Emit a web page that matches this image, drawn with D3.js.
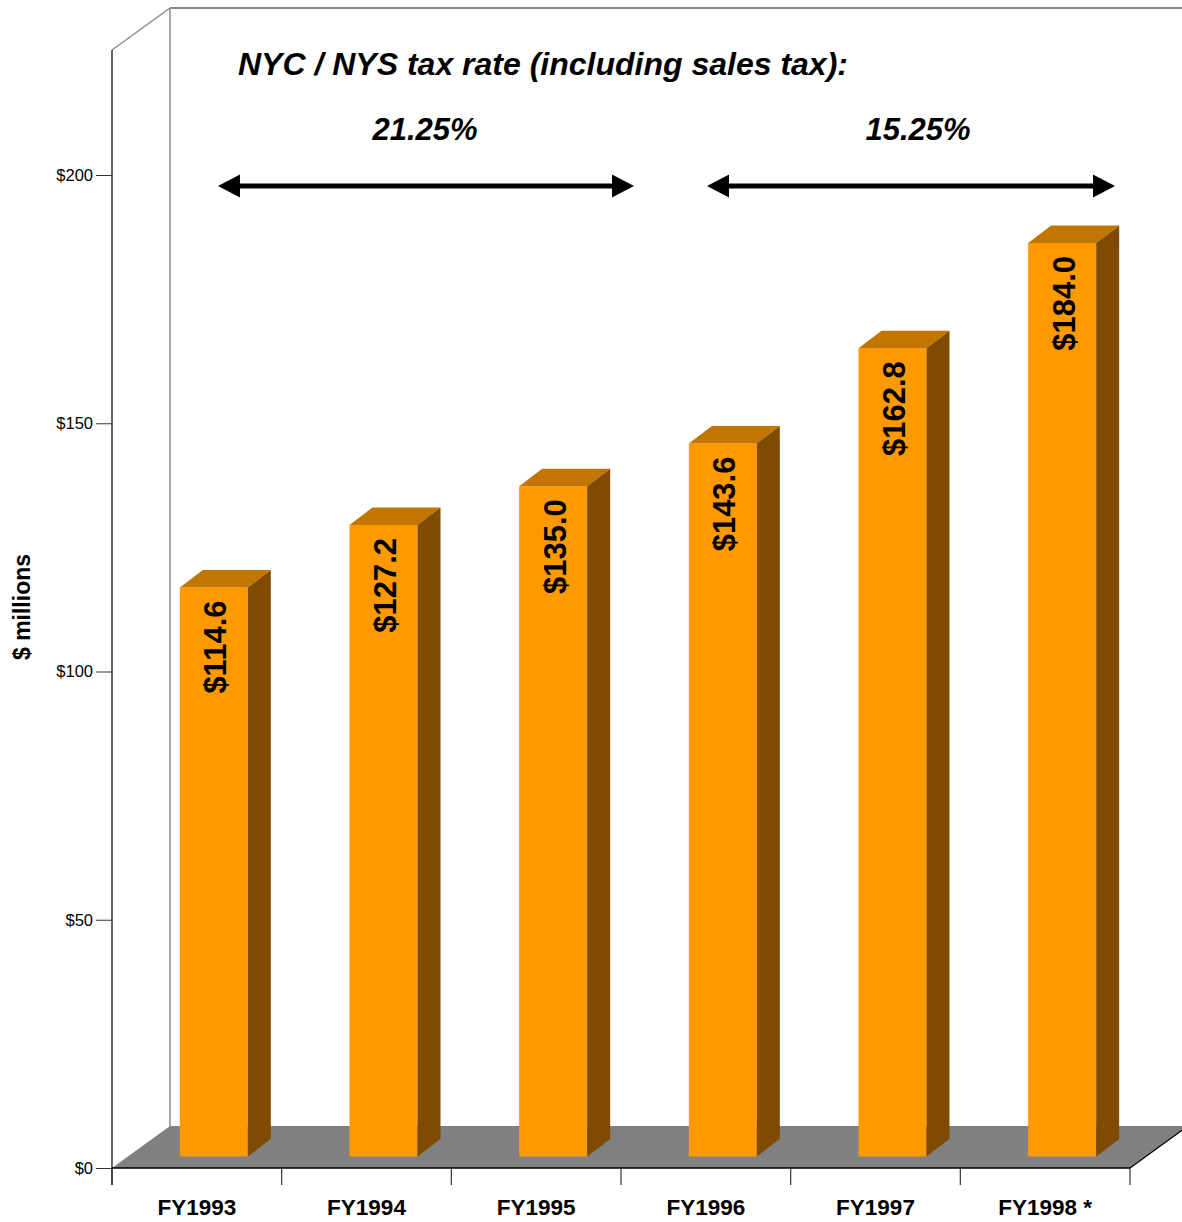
<!DOCTYPE html>
<html>
<head>
<meta charset="utf-8">
<script src="https://cdn.jsdelivr.net/npm/d3@7"></script>
<style>
  html, body { margin: 0; padding: 0; background: #fff; }
  svg { display: block; font-family: "Liberation Sans", Arial, Helvetica, sans-serif; }
</style>
</head>
<body>
<svg id="chart" width="1182" height="1222"></svg>
<script>
// Fiscal years and revenue ($ millions)
const categories = ["FY1993", "FY1994", "FY1995", "FY1996", "FY1997", "FY1998 *"];
const values = [114.6, 127.2, 135.0, 143.6, 162.8, 184.0];
const yTicks = [0, 50, 100, 150, 200];

// Tax-rate periods shown above the bars
const rateLabels = ["21.25%", "15.25%"];
const titleText = "NYC / NYS tax rate (including sales tax):";

const svg = d3.select("#chart");

// Plot frame (front plane) and 3-D depth of the floor / walls
const left = 112, right = 1130, bottom = 1168;
const DX = 58, DY = -42;           // full depth of the floor
const barOff = { x: 17, y: -11.5 }; // bars sit part-way into the depth
const barDepth = { x: 23, y: -17.5 };
const barW = 68;

const x = d3.scaleBand().domain(categories).range([left, right]).padding(0);
const y = d3.scaleLinear().domain([0, 200]).range([bottom, 175]);

// Back wall and left wall outlines
const walls = svg.append("g");
walls.append("line").attr("x1", left + DX).attr("y1", 50 + DY).attr("x2", 1182).attr("y2", 50 + DY)
  .attr("stroke", "#8a8a8a").attr("stroke-width", 2);
walls.append("line").attr("x1", left).attr("y1", 50).attr("x2", left + DX).attr("y2", 50 + DY)
  .attr("stroke", "#8a8a8a").attr("stroke-width", 1.5);
walls.append("line").attr("x1", left + DX).attr("y1", 50 + DY).attr("x2", left + DX).attr("y2", bottom + DY)
  .attr("stroke", "#8a8a8a").attr("stroke-width", 1.5);

// Floor
svg.append("polygon")
  .attr("points", [[left, bottom], [right, bottom], [right + DX, bottom + DY], [left + DX, bottom + DY]].map(p => p.join(",")).join(" "))
  .attr("fill", "#808080");
svg.append("line").attr("x1", right).attr("y1", bottom).attr("x2", right + DX).attr("y2", bottom + DY)
  .attr("stroke", "#000").attr("stroke-width", 1.2);

// Bars
const bars = svg.append("g").selectAll("g").data(values).join("g");
const bx = (d, i) => x(categories[i]) + x.bandwidth() / 2 + barOff.x - barW / 2;
const btop = d => y(d) + barOff.y;
const bbot = y(0) + barOff.y;

bars.append("rect")
  .attr("x", bx).attr("y", btop)
  .attr("width", barW).attr("height", d => bbot - btop(d))
  .attr("fill", "#ff9900");
bars.append("polygon") // top face
  .attr("points", (d, i) => {
    const x0 = bx(d, i), t = btop(d);
    return [[x0, t], [x0 + barW, t], [x0 + barW + barDepth.x, t + barDepth.y], [x0 + barDepth.x, t + barDepth.y]].map(p => p.join(",")).join(" ");
  })
  .attr("fill", "#c27500");
bars.append("polygon") // side face
  .attr("points", (d, i) => {
    const x1 = bx(d, i) + barW, t = btop(d);
    return [[x1, t], [x1 + barDepth.x, t + barDepth.y], [x1 + barDepth.x, bbot + barDepth.y], [x1, bbot]].map(p => p.join(",")).join(" ");
  })
  .attr("fill", "#7f4b00");

// Value labels inside bars, reading upward
bars.append("text")
  .attr("transform", (d, i) => `translate(${bx(d, i) + barW / 2 + 2},${btop(d) + 13}) rotate(-90)`)
  .attr("text-anchor", "end")
  .attr("dominant-baseline", "central")
  .attr("font-size", 31).attr("font-weight", "bold").attr("fill", "#000")
  .text(d => "$" + d.toFixed(1));

// Y axis
const yAxis = svg.append("g").attr("transform", `translate(${left},0)`)
  .call(d3.axisLeft(y).tickValues(yTicks).tickSize(16).tickPadding(3).tickFormat(d => "$" + d));
yAxis.select(".domain").remove();
yAxis.selectAll(".tick line").attr("stroke", "#333");
yAxis.selectAll(".tick text").attr("font-size", 16.5).attr("fill", "#000")
  .attr("font-family", "'Liberation Sans', Arial, sans-serif");
svg.append("line").attr("x1", left).attr("y1", 50).attr("x2", left).attr("y2", bottom + 17)
  .attr("stroke", "#333").attr("stroke-width", 1.5);

// X axis: baseline, boundary ticks, category labels
svg.append("line").attr("x1", left).attr("y1", bottom).attr("x2", right).attr("y2", bottom)
  .attr("stroke", "#000").attr("stroke-width", 1.5);
const bounds = categories.map(c => x(c)).concat([right]);
svg.append("g").selectAll("line").data(bounds).join("line")
  .attr("x1", d => d).attr("x2", d => d).attr("y1", bottom).attr("y2", bottom + 17)
  .attr("stroke", "#333").attr("stroke-width", 1.2);
const xAxis = svg.append("g").attr("transform", `translate(0,${bottom})`)
  .call(d3.axisBottom(x).tickSize(0).tickPadding(0));
xAxis.select(".domain").remove();
xAxis.selectAll(".tick text")
  .attr("y", 47).attr("dy", 0)
  .attr("font-size", 22.5).attr("font-weight", "bold").attr("fill", "#000")
  .attr("font-family", "'Liberation Sans', Arial, sans-serif");

// Y axis title
svg.append("text")
  .attr("transform", "translate(30,607) rotate(-90)")
  .attr("text-anchor", "middle")
  .attr("font-size", 23).attr("font-weight", "bold")
  .text("$ millions");

// Title and tax-rate annotations
svg.append("text").attr("x", 238).attr("y", 75)
  .attr("font-size", 32).attr("font-weight", "bold").attr("font-style", "italic")
  .text(titleText);

const ratePos = [{ cx: 425, x1: 218, x2: 634 }, { cx: 918, x1: 707, x2: 1115 }];
const ann = svg.append("g").selectAll("g").data(rateLabels).join("g");
ann.append("text")
  .attr("x", (d, i) => ratePos[i].cx).attr("y", 140)
  .attr("text-anchor", "middle")
  .attr("font-size", 31).attr("font-weight", "bold").attr("font-style", "italic")
  .text(d => d);
const ay = 186, head = 22, hh = 11.5;
ann.append("line")
  .attr("x1", (d, i) => ratePos[i].x1 + head - 2).attr("x2", (d, i) => ratePos[i].x2 - head + 2)
  .attr("y1", ay).attr("y2", ay)
  .attr("stroke", "#000").attr("stroke-width", 5);
ann.append("polygon")
  .attr("points", (d, i) => { const a = ratePos[i].x1; return `${a},${ay} ${a + head},${ay - hh} ${a + head},${ay + hh}`; })
  .attr("fill", "#000");
ann.append("polygon")
  .attr("points", (d, i) => { const b = ratePos[i].x2; return `${b},${ay} ${b - head},${ay - hh} ${b - head},${ay + hh}`; })
  .attr("fill", "#000");
</script>
</body>
</html>
